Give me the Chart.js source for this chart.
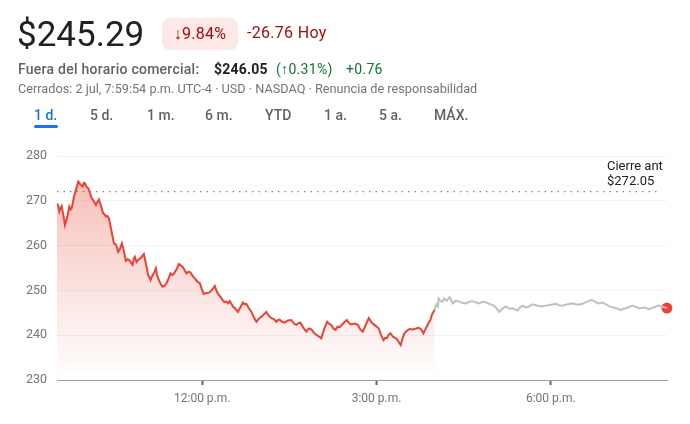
<!DOCTYPE html>
<html><head><meta charset="utf-8">
<script src="https://cdn.jsdelivr.net/npm/chart.js@4/dist/chart.umd.min.js"></script>
<style>
body{margin:0;width:690px;height:424px;overflow:hidden;background:#fff;font-family:Roboto,Arial,sans-serif;position:relative}
#wrap{position:absolute;left:0;top:0;width:690px;height:424px}
.abs{position:absolute;white-space:nowrap}
.tab{position:absolute;top:107px;font-size:14px;line-height:17px;font-weight:500;color:#5f6368}
.l2{position:absolute;top:61px;font-size:14px;line-height:16px;white-space:nowrap}
</style></head><body>
<div id="wrap"><canvas id="c" width="690" height="424"></canvas></div>
<div class="abs" style="left:17px;top:14px;font-size:35px;line-height:42px;color:#202124">$245.29</div>
<div class="abs" style="left:162px;top:18px;width:76px;height:32px;background:#fce8e6;border-radius:8px;color:#a50e0e;font-size:16px;letter-spacing:0.3px;line-height:32px;text-align:center">↓9.84%</div>
<div class="abs" style="left:247px;top:24px;font-size:16px;letter-spacing:0.3px;line-height:18px;color:#a50e0e">-26.76 Hoy</div>
<div class="l2" style="left:18px;color:#5f6368;font-weight:500;letter-spacing:0.25px">Fuera del horario comercial:</div>
<div class="l2" style="left:214px;color:#202124;font-weight:700;letter-spacing:0.2px">$246.05</div>
<div class="l2" style="left:276px;color:#137333;letter-spacing:0.3px">(↑0.31%)</div>
<div class="l2" style="left:346px;color:#137333;letter-spacing:0.3px">+0.76</div>
<div class="abs" style="left:18px;top:81px;font-size:12.7px;line-height:15px;color:#70757a">Cerrados: 2 jul, 7:59:54 p.m. UTC-4 · USD · NASDAQ · Renuncia de responsabilidad</div>
<div class="tab" style="left:34px;color:#1a73e8">1 d.</div>
<div class="abs" style="left:34px;top:125px;width:24px;height:3px;background:#1a73e8;border-radius:2px"></div>
<div class="tab" style="left:90px">5 d.</div>
<div class="tab" style="left:147px">1 m.</div>
<div class="tab" style="left:205px">6 m.</div>
<div class="tab" style="left:265px">YTD</div>
<div class="tab" style="left:324px">1 a.</div>
<div class="tab" style="left:379px">5 a.</div>
<div class="tab" style="left:434px">MÁX.</div>
<div class="abs" style="left:607px;top:158px;font-size:13px;line-height:15px;color:#202124">Cierre ant<br>$272.05</div>
<script>
// minutes since 9:30 a.m.
const sessionTimes = [0,1.2,2.4,3.5,4.8,6.5,8.2,10.4,12.7,14,15.2,16.4,17.5,19.8,22,24.2,26.5,27.7,28.9,30.6,32.3,34,35.8,38,40.2,41.8,43.3,45.5,47.7,49.1,50.5,52,53.6,56.2,58.8,61,63.2,65.1,67,69,71.1,73.2,75.3,76.6,78,79.2,80.4,82.1,83.8,86.7,89.7,91.9,94.1,95.4,96.6,98.3,100,101,102.1,103.3,104.5,106.7,109,111,113.1,115.2,117.2,118.9,120.6,123.2,125.8,127.7,129.6,131.6,133.7,135.8,137.9,140.1,142.3,144.9,147.5,149.5,151.6,154.3,157,160,162.9,164.6,166.3,168.6,170.9,172.9,175,176.7,178.4,180.1,181.8,184.3,186.9,189.5,192.1,193.8,195.6,198.2,200.8,203.3,205.9,208.5,211.1,213.6,216.2,218.8,221.4,224,226.5,228.2,229.9,232.5,235.1,238.5,242,244.6,247.2,249.2,251.3,254.4,257.5,260,262.6,265.5,268.4,270.6,272.9,276,279.1,281.1,283.2,285.4,287.7,289.7,291.8,295.5,299.3,301.6,303.9,307.3,310.7,313.2,315.8,318.9,322,325,327.9,330.1,332.3,334.7,337.2,338.9,340.6,342.5,344.4,347.3,350.3,352.6,355,356.9,358.8,361.4,364,367.4,370.9,373.5,376.1,378.4,380.1,381.8,383.7,385.6,387.1,388.7,390];
const sessionPrices = [269.4,269.0,267.6,268.3,268.8,266.9,264.6,266.2,268.7,268.1,268.4,269.6,270.9,272.6,274.3,273.6,273.2,274.0,273.9,273.1,272.8,271.8,270.6,269.9,269.1,269.8,270.3,268.8,267.2,267.0,266.5,266.6,266.1,263.4,260.5,260.2,258.6,259.3,260.5,258.9,256.6,257.0,256.6,256.1,255.7,257.0,257.5,256.3,256.8,257.3,258.1,255.9,253.4,253.0,252.3,253.2,253.8,254.3,254.9,253.5,252.7,251.6,250.8,251.0,251.6,252.6,253.8,253.4,253.7,254.6,255.9,255.6,255.3,254.6,253.8,254.2,254.0,253.2,252.7,252.0,251.6,250.3,249.2,249.4,249.5,250.1,251.0,250.0,249.2,248.6,247.9,247.4,247.5,247.1,247.6,247.0,246.4,245.9,245.2,246.3,247.3,246.9,247.0,246.0,245.2,244.0,243.0,243.7,244.1,244.6,245.2,244.3,243.8,243.6,243.0,243.4,243.5,243.0,242.8,243.3,243.4,242.6,242.3,242.7,242.8,241.7,240.8,241.5,241.3,240.5,240.0,239.7,239.3,241.4,243.0,242.5,242.3,241.5,241.2,241.9,241.8,242.6,243.4,242.7,242.4,242.6,242.3,241.3,240.8,242.3,243.8,242.8,242.3,241.9,241.5,240.0,238.9,239.4,239.3,240.1,240.4,239.6,239.3,238.6,237.8,239.3,240.4,241.0,241.4,241.3,241.5,241.7,241.3,240.4,241.2,241.9,242.7,243.4,244.5,245.2,245.6];
const afterTimes = [390,391.7,393.4,394.2,396.2,398.3,400,402.6,405.2,406.9,408.7,412.1,415.5,418.9,422.4,425.8,429.3,432.7,436.2,439.6,443.1,446.5,449.9,453.3,456.8,460.2,463.7,467.1,470.5,473.1,475.7,478.2,480.8,484.2,487.7,491.1,494.6,499.7,504.9,510.1,515.3,518.7,522.1,527.2,532.4,537.5,542.7,547.5,552.4,556.1,559.9,563.3,566.8,570.2,573.6,577.9,582.3,584.8,587.4,590.8,594.3,597.7,601.2,606.3,611.5,614.9,618.4,621.8,625.8,629.9];
const afterPrices = [245.6,246.9,246.4,248.2,247.6,247.5,248.2,247.7,248.5,247.9,247.1,247.7,247.5,247.2,247.1,247.5,247.6,247.3,247.1,247.5,247.3,247.0,246.7,246.2,245.2,246.0,246.4,245.9,246.0,245.7,245.5,246.2,246.6,246.2,246.4,246.9,246.7,246.4,246.6,246.8,247.0,246.7,246.6,246.9,247.1,246.8,247.0,247.5,247.9,247.4,247.1,247.3,246.9,246.5,246.2,246.0,245.6,245.9,246.0,246.3,246.6,246.3,246.0,246.2,245.8,246.1,246.4,246.6,246.3,246.05];
const previousClose = 272.05;
const prevCloseSpan = [0, 622];
const yTicks = [230,240,250,260,270,280];
const xTickTimes = [150,330,510];
const xTickLabels = ['12:00 p.m.','3:00 p.m.','6:00 p.m.'];

const pts = (t,v)=>t.map((x,i)=>({x, y:v[i]}));
const ctx = document.getElementById('c').getContext('2d');
new Chart(ctx,{
  type:'line',
  data:{datasets:[
    {data:pts(sessionTimes,sessionPrices),borderColor:'#ea4335',borderWidth:2,pointRadius:0,tension:0,fill:'start',
     backgroundColor:(c)=>{const ch=c.chart,a=ch.chartArea;if(!a)return 'rgba(234,67,53,0.2)';const g=ch.ctx.createLinearGradient(0,a.top,0,a.bottom);g.addColorStop(0,'rgba(234,67,53,0.38)');g.addColorStop(1,'rgba(234,67,53,0)');return g;}},
    {data:pts(afterTimes,afterPrices),borderColor:'#bdc1c6',borderWidth:2,pointRadius:0,tension:0,fill:false},
    {data:prevCloseSpan.map(x=>({x,y:previousClose})),borderColor:'#80868b',borderWidth:1.2,borderDash:[1.5,5],pointRadius:0,fill:false},
    {data:[{x:afterTimes[afterTimes.length-1],y:afterPrices[afterPrices.length-1]}],pointRadius:5.5,pointBackgroundColor:'#ea4335',pointBorderWidth:0,showLine:false,clip:false}
  ]},
  options:{
    responsive:false,animation:false,
    layout:{padding:{top:156,right:23,left:0,bottom:0}},
    plugins:{legend:{display:false},tooltip:{enabled:false}},
    scales:{
      x:{type:'linear',min:0,max:630,
        afterFit:(s)=>{s.height=44;},
        afterBuildTicks:(s)=>{s.ticks=xTickTimes.map(v=>({value:v}));},
        ticks:{callback:(v)=>xTickLabels[xTickTimes.indexOf(v)],color:'#70757a',font:{family:'Roboto',size:12},padding:7,maxRotation:0,autoSkip:false},
        grid:{drawOnChartArea:false,drawTicks:true,tickLength:5,tickWidth:2,tickColor:'#5f6368'},
        border:{display:true,color:'#9aa0a6',width:1}
      },
      y:{min:230,max:280,
        afterFit:(s)=>{s.width=57;},
        afterBuildTicks:(s)=>{s.ticks=yTicks.map(v=>({value:v}));},
        ticks:{color:'#70757a',font:{family:'Roboto',size:12.5},padding:10},
        grid:{drawTicks:false,color:(c)=>c.tick&&c.tick.value===230?'rgba(0,0,0,0)':'#f1f3f4',lineWidth:1},
        border:{display:false}
      }
    }
  }
});
</script>
</body></html>
